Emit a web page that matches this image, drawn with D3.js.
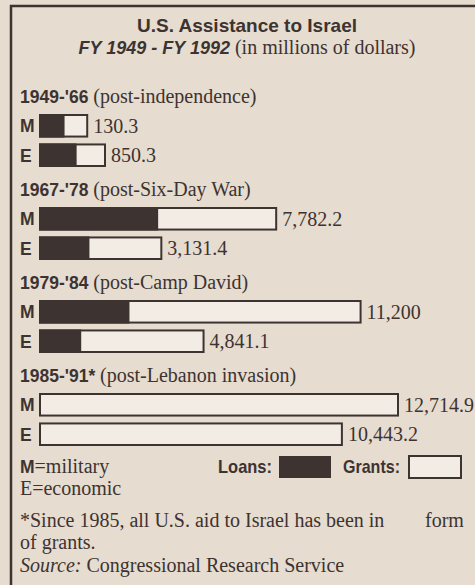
<!DOCTYPE html>
<html lang="en">
<head>
    <meta charset="UTF-8">
    <title>U.S. Assistance to Israel</title>
    <script src="https://d3js.org/d3.v7.min.js"></script>
    <style>
        body {
            margin: 0;
            background-color: #e6dccf;
        }
        .sans { font-family: "Liberation Sans", Arial, sans-serif; font-weight: bold; }
        .serif { font-family: "Liberation Serif", "Times New Roman", serif; }
    </style>
</head>
<body>
    <div id="chart"></div>
    <script>
        // Data (millions of dollars)
        const periods = ["1949-'66", "1967-'78", "1979-'84", "1985-'91*"];
        const periodNotes = ["(post-independence)", "(post-Six-Day War)", "(post-Camp David)", "(post-Lebanon invasion)"];
        const military = [130.3, 7782.2, 11200, 12714.9];
        const economic = [850.3, 3131.4, 4841.1, 10443.2];
        const militaryLoans = [65, 3860, 3090, 0];
        const economicLoans = [466, 1250, 1190, 0];
        const militaryLabels = ["130.3", "7,782.2", "11,200", "12,714.9"];
        const economicLabels = ["850.3", "3,131.4", "4,841.1", "10,443.2"];
        const kinds = ["M", "E"];

        const W = 475, H = 585;
        const ink = "#3d3331", paper = "#e6dccf", grantFill = "#f2ece4";

        const svg = d3.select("#chart")
            .append("svg")
            .attr("width", W)
            .attr("height", H);

        svg.append("rect")
            .attr("width", W).attr("height", H)
            .attr("fill", paper);

        // frame (runs off the right and bottom edge)
        svg.append("rect")
            .attr("x", 11).attr("y", 6)
            .attr("width", 600).attr("height", 700)
            .attr("fill", "none")
            .attr("stroke", ink)
            .attr("stroke-width", 2.5);

        // Title
        svg.append("text")
            .attr("class", "sans")
            .attr("x", 247).attr("y", 32)
            .attr("text-anchor", "middle")
            .attr("font-size", 19)
            .attr("fill", ink)
            .text("U.S. Assistance to Israel");

        const sub = svg.append("text")
            .attr("x", 247).attr("y", 54)
            .attr("text-anchor", "middle")
            .attr("fill", ink);
        sub.append("tspan")
            .attr("class", "sans")
            .attr("font-style", "italic")
            .attr("font-size", 18)
            .text("FY 1949 - FY 1992 ");
        sub.append("tspan")
            .attr("class", "serif")
            .attr("font-size", 20)
            .text("(in millions of dollars)");

        // Scales (the original bars are not drawn from zero: small bars keep a base length)
        const x0 = 40;
        const len = d3.scaleLinear()
            .domain([0, 12714.9])
            .range([46, 360]);

        const group = d3.scaleBand()
            .domain(periods)
            .range([114, 114 + 93 * periods.length]);

        const row = d3.scaleBand()
            .domain(kinds)
            .range([0, 53])
            .paddingInner(0.2);

        const rows = [];
        periods.forEach((p, i) => {
            rows.push({ period: p, kind: "M", total: military[i], loans: militaryLoans[i], label: militaryLabels[i] });
            rows.push({ period: p, kind: "E", total: economic[i], loans: economicLoans[i], label: economicLabels[i] });
        });

        // Period headers
        const head = svg.selectAll(".head")
            .data(periods)
            .enter()
            .append("text")
            .attr("class", "head")
            .attr("x", 20)
            .attr("y", d => group(d) - 11)
            .attr("fill", ink);
        head.append("tspan")
            .attr("class", "sans")
            .attr("font-size", 17.5)
            .text(d => d + " ");
        head.append("tspan")
            .attr("class", "serif")
            .attr("font-size", 20)
            .text((d, i) => periodNotes[i]);

        const bars = svg.selectAll(".bar")
            .data(rows)
            .enter()
            .append("g")
            .attr("class", "bar")
            .attr("transform", d => `translate(0,${group(d.period) + row(d.kind)})`);

        bars.append("text")
            .attr("class", "sans")
            .attr("x", 20)
            .attr("y", row.bandwidth() / 2 + 6.5)
            .attr("font-size", 17.5)
            .attr("fill", ink)
            .text(d => d.kind);

        // grants outline (full bar)
        bars.append("rect")
            .attr("x", x0)
            .attr("y", 1)
            .attr("width", d => len(d.total) - 2)
            .attr("height", row.bandwidth() - 2)
            .attr("fill", grantFill)
            .attr("stroke", ink)
            .attr("stroke-width", 2);

        // loans (dark part)
        bars.append("rect")
            .attr("x", x0)
            .attr("y", 1)
            .attr("width", d => {
                const part = d3.scaleLinear().domain([0, d.total]).range([0, len(d.total) - 2]);
                return part(d.loans);
            })
            .attr("height", row.bandwidth() - 2)
            .attr("fill", ink)
            .attr("stroke", d => d.loans > 0 ? ink : "none")
            .attr("stroke-width", 2);

        bars.append("text")
            .attr("class", "serif")
            .attr("x", d => x0 + len(d.total) + 4)
            .attr("y", row.bandwidth() / 2 + 7)
            .attr("font-size", 20)
            .attr("fill", ink)
            .text(d => d.label);

        // Legend
        const legY = 473;
        const mLine = svg.append("text").attr("x", 20).attr("y", legY).attr("fill", ink);
        mLine.append("tspan").attr("class", "sans").attr("font-size", 17.5).text("M");
        mLine.append("tspan").attr("class", "serif").attr("font-size", 20).text("=military");
        svg.append("text")
            .attr("class", "serif")
            .attr("x", 20).attr("y", legY + 22)
            .attr("font-size", 20)
            .attr("fill", ink)
            .text("E=economic");

        svg.append("text")
            .attr("class", "sans")
            .attr("x", 218).attr("y", legY)
            .attr("font-size", 19)
            .attr("textLength", 54)
            .attr("lengthAdjust", "spacingAndGlyphs")
            .attr("fill", ink)
            .text("Loans:");
        svg.append("rect")
            .attr("x", 279).attr("y", 456)
            .attr("width", 52).attr("height", 22)
            .attr("fill", ink);
        svg.append("text")
            .attr("class", "sans")
            .attr("x", 343).attr("y", legY)
            .attr("font-size", 19)
            .attr("textLength", 57)
            .attr("lengthAdjust", "spacingAndGlyphs")
            .attr("fill", ink)
            .text("Grants:");
        svg.append("rect")
            .attr("x", 409).attr("y", 456)
            .attr("width", 52).attr("height", 22)
            .attr("fill", grantFill)
            .attr("stroke", ink)
            .attr("stroke-width", 2);

        // Footnotes
        svg.append("text")
            .attr("class", "serif")
            .attr("x", 20).attr("y", 527)
            .attr("font-size", 20)
            .attr("fill", ink)
            .text("*Since 1985, all U.S. aid to Israel has been in");
        svg.append("text")
            .attr("class", "serif")
            .attr("x", 425).attr("y", 527)
            .attr("font-size", 20)
            .attr("fill", ink)
            .text("form");
        svg.append("text")
            .attr("class", "serif")
            .attr("x", 20).attr("y", 549)
            .attr("font-size", 20)
            .attr("fill", ink)
            .text("of grants.");
        const src = svg.append("text")
            .attr("class", "serif")
            .attr("x", 20).attr("y", 572)
            .attr("font-size", 20)
            .attr("fill", ink);
        src.append("tspan").attr("font-style", "italic").text("Source:");
        src.append("tspan").text(" Congressional Research Service");
    </script>
</body>
</html>
